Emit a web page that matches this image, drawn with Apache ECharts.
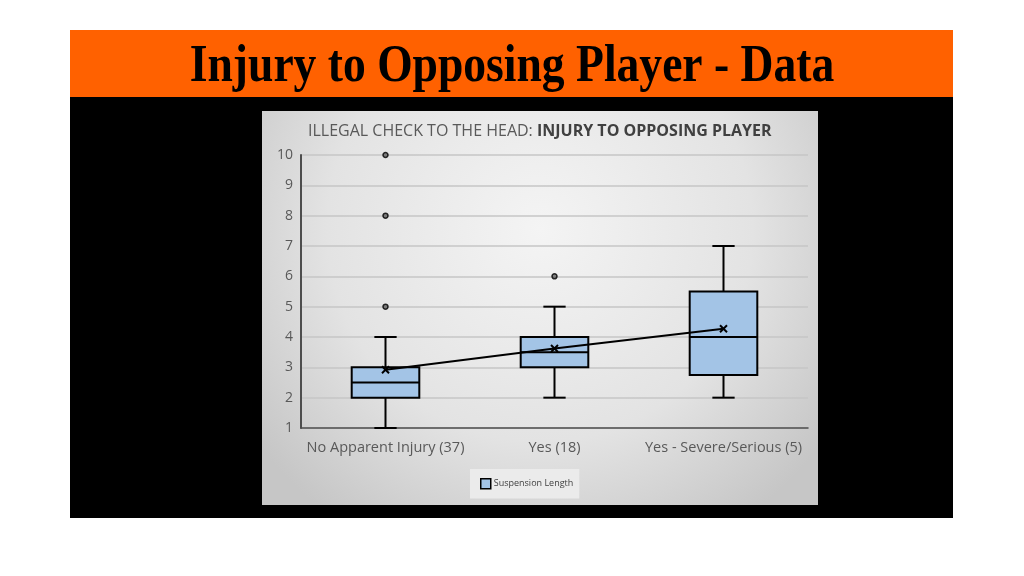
<!DOCTYPE html>
<html><head><meta charset="utf-8">
<script src="https://cdn.jsdelivr.net/npm/echarts@6/dist/echarts.min.js"></script>
<style>html,body{margin:0;padding:0;background:#fff}#c{width:1024px;height:576px}</style>
</head><body><div id="c"></div>
<script>
var categories = ['No Apparent Injury (37)', 'Yes (18)', 'Yes - Severe/Serious (5)'];
var boxMin = [1, 2, 2];
var boxQ1 = [2, 3, 2.75];
var boxMedian = [2.5, 3.5, 4];
var boxQ3 = [3, 4, 5.5];
var boxMax = [4, 5, 7];
var means = [2.92, 3.62, 4.27];
var outliers = [[0, 5], [0, 8], [0, 10], [1, 6]];
var yTicks = [1, 2, 3, 4, 5, 6, 7, 8, 9, 10];

var boxData = categories.map(function (c, i) {
  return [i, boxMin[i], boxQ1[i], boxMedian[i], boxQ3[i], boxMax[i]];
});
var meanData = categories.map(function (c, i) { return [i, means[i]]; });

var chart = echarts.init(document.getElementById('c'));
var LS = {stroke: '#000', lineWidth: 2};
chart.setOption({
  animation: false,
  graphic: [
    {type: 'rect', z: -10, shape: {x: 70, y: 30, width: 883, height: 67}, style: {fill: '#ff6100'}},
    {type: 'rect', z: -10, shape: {x: 70, y: 97, width: 883, height: 421}, style: {fill: '#000'}},
    {type: 'rect', z: -9, shape: {x: 262, y: 111, width: 556, height: 394},
      style: {fill: new echarts.graphic.RadialGradient(0.5, 0.3, 0.9, [
        {offset: 0, color: '#f4f4f4'}, {offset: 0.6, color: '#e3e3e3'}, {offset: 1, color: '#c6c6c6'}])}},
    {type: 'text', z: 5, x: 512, y: 67, scaleX: 0.86,
      style: {text: 'Injury to Opposing Player - Data', x: 0, y: 0,
      textAlign: 'center', textVerticalAlign: 'middle', fill: '#000',
      font: 'bold 53px "Liberation Serif", "DejaVu Serif", serif'}}
  ],
  title: {
    left: 303, top: 118,
    text: '{n|ILLEGAL CHECK TO THE HEAD: }{b|INJURY TO OPPOSING PLAYER}',
    textStyle: {
      fontWeight: 'normal',
      rich: {
        n: {fontFamily: 'Open Sans', fontSize: 16, fontWeight: 'normal', color: '#595959'},
        b: {fontFamily: 'Open Sans', fontSize: 16, fontWeight: 'bold', color: '#404040'}
      }
    }
  },
  legend: {
    left: 470, top: 469,
    data: ['Suspension Length'],
    backgroundColor: '#ebebeb',
    padding: [9, 6, 9, 10],
    itemWidth: 10, itemHeight: 10, itemGap: 4,
    icon: 'rect',
    itemStyle: {color: '#a3c4e6', borderColor: '#000', borderWidth: 1.5},
    textStyle: {fontFamily: 'Open Sans', fontSize: 9, color: '#404040', padding: [0, 0, 0, -2]}
  },
  grid: {left: 301, right: 216, top: 155, bottom: 148},
  xAxis: {
    type: 'category', data: categories, boundaryGap: true,
    axisTick: {show: false},
    axisLine: {lineStyle: {color: '#4d4d4d', width: 1.5}},
    axisLabel: {interval: 0, fontFamily: 'Open Sans', fontSize: 14.5, color: '#595959', margin: 12}
  },
  yAxis: {
    type: 'value', min: 1, max: 10, interval: 1,
    axisLine: {show: true, lineStyle: {color: '#4d4d4d', width: 2}},
    axisTick: {show: false},
    axisLabel: {fontFamily: 'Open Sans', fontSize: 14, color: '#595959', margin: 8,
      formatter: function (v) { return yTicks.indexOf(v) >= 0 ? String(v) : ''; }},
    splitLine: {lineStyle: {color: '#c6c6c6', width: 1.5}}
  },
  series: [
    {
      name: 'Suspension Length', type: 'custom', z: 3,
      encode: {x: 0, y: [1, 2, 3, 4, 5]},
      data: boxData,
      itemStyle: {color: '#a3c4e6'},
      renderItem: function (params, api) {
        var x = api.value(0);
        var pMin = api.coord([x, api.value(1)]);
        var pQ1 = api.coord([x, api.value(2)]);
        var pMed = api.coord([x, api.value(3)]);
        var pQ3 = api.coord([x, api.value(4)]);
        var pMax = api.coord([x, api.value(5)]);
        var bw = api.size([1, 0])[0] * 0.4;
        var cw = bw * 0.3;
        var cx = pMin[0];
        return {type: 'group', children: [
          {type: 'line', shape: {x1: cx, y1: pMin[1], x2: cx, y2: pQ1[1]}, style: LS},
          {type: 'line', shape: {x1: cx, y1: pQ3[1], x2: cx, y2: pMax[1]}, style: LS},
          {type: 'line', shape: {x1: cx - cw / 2 - 1, y1: pMin[1], x2: cx + cw / 2 + 1, y2: pMin[1]}, style: LS},
          {type: 'line', shape: {x1: cx - cw / 2 - 1, y1: pMax[1], x2: cx + cw / 2 + 1, y2: pMax[1]}, style: LS},
          {type: 'rect', shape: {x: cx - bw / 2, y: pQ3[1], width: bw, height: pQ1[1] - pQ3[1]},
            style: {fill: '#a3c4e6', stroke: '#000', lineWidth: 2}},
          {type: 'line', shape: {x1: cx - bw / 2, y1: pMed[1], x2: cx + bw / 2, y2: pMed[1]}, style: LS}
        ]};
      }
    },
    {
      name: 'mean', type: 'line', z: 4, data: meanData, symbol: 'none',
      lineStyle: {color: '#000', width: 2}
    },
    {
      name: 'meanMark', type: 'custom', z: 5, data: meanData,
      encode: {x: 0, y: 1},
      renderItem: function (params, api) {
        var p = api.coord([api.value(0), api.value(1)]);
        var s = 3.5;
        return {type: 'group', children: [
          {type: 'line', shape: {x1: p[0] - s, y1: p[1] - s, x2: p[0] + s, y2: p[1] + s}, style: {stroke: '#000', lineWidth: 2}},
          {type: 'line', shape: {x1: p[0] - s, y1: p[1] + s, x2: p[0] + s, y2: p[1] - s}, style: {stroke: '#000', lineWidth: 2}}
        ]};
      }
    },
    {
      name: 'outliers', type: 'scatter', z: 5, data: outliers,
      symbol: 'circle', symbolSize: 5,
      itemStyle: {color: '#666', borderColor: '#000', borderWidth: 1.5}
    }
  ]
});
</script></body></html>
